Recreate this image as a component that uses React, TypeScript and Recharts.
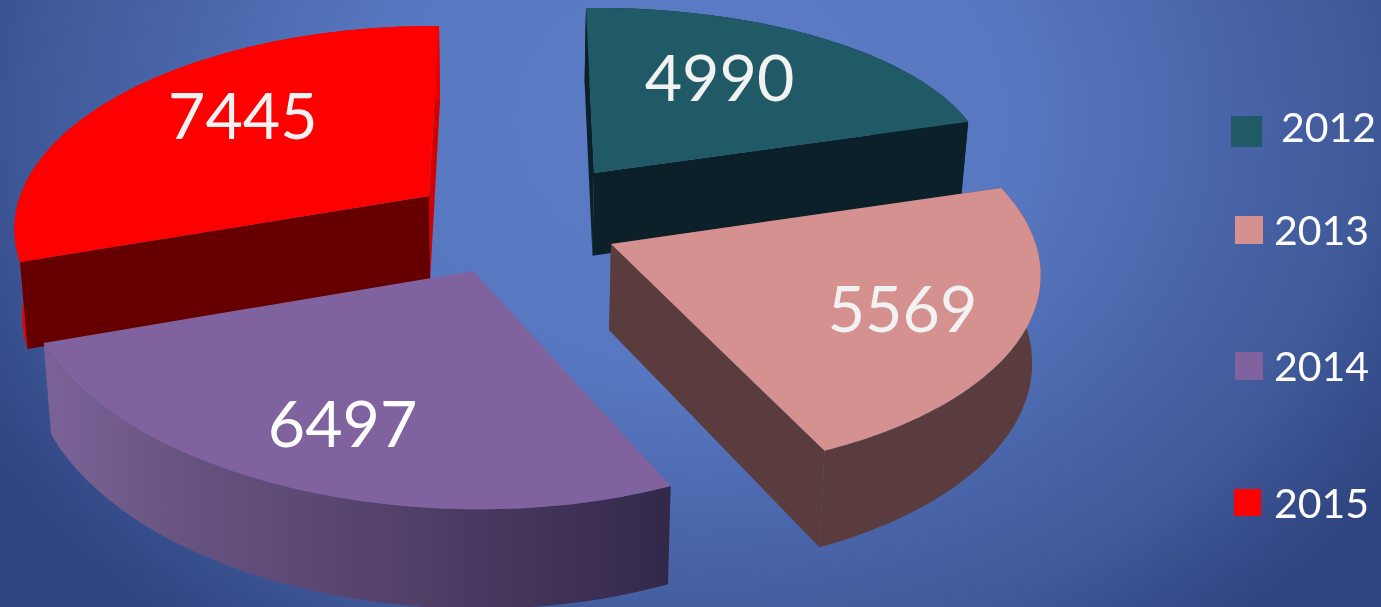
// 3D exploded pie: Recharts works out the slice angles, the custom shape projects them.
import { Legend, Pie, PieChart } from "recharts";

const years = ["2015", "2012", "2013", "2014"]; // paint order, back slices first
const values = [7445, 4990, 5569, 6497];

const topColors = ["#ff0000", "#205a66", "#d49190", "#7f629e"];
const wallColors = ["#e60000", "#0c2029", "#5a3c3e", "url(#purpleWall)"];
const startCutColors = ["#660000", "#0c2029", "#5a3c3e", "none"];
const endCutColors = ["#d40000", "#0c2029", "#5a3c3e", "none"];
const labelColors = ["#f2f2f2", "#f2f2f2", "#f2f2f2", "#ffffff"];

const chartData = years.map((year, i) => ({ year, value: values[i], fill: topColors[i] }));
const total = values.reduce((a, b) => a + b, 0);
const startAngle = 90 + (360 * values[0]) / total;

const CX = 530;
const CY = 220;

// how each exploded slice sits on the tilted plane: offset from centre, ellipse axes, perspective
const views: Record<string, any> = {
    "2012": { dx: 64, dy: -47, ax: 393, ay: -4, bx: -8, by: -165, qx: 0, qy: 0, lx: 0.55, ly: 0.72 },
    "2013": { dx: 81, dy: 24, ax: 425, ay: 0.6, bx: -13.8, by: -203.6, qx: 0, qy: 0.116, lx: 0.706, ly: 0.716 },
    "2014": { dx: -57, dy: 51, ax: 435.6, ay: 6.3, bx: -7, by: -224, qx: 0.03, qy: 0.06, lx: 0.747, ly: 0.693 },
    "2015": { dx: -101, dy: -24, ax: 408, ay: 2.3, bx: 11.5, by: -195.5, qx: 0, qy: 0.15, lx: 0.62, ly: 0.776 },
};

const legendRows: Record<string, any> = {
    "2012": { left: 1231, top: 116, size: 31, textLeft: 1281, textShift: -5 },
    "2013": { left: 1235, top: 216, size: 28, textLeft: 1274, textShift: 0 },
    "2014": { left: 1235, top: 352, size: 28, textLeft: 1274, textShift: 0 },
    "2015": { left: 1234, top: 489, size: 27, textLeft: 1274, textShift: 0 },
};

const FONT = "Lato, 'Open Sans', sans-serif";

// offset of a rim point from the slice's apex
function rim(view: any, deg: number) {
    const t = (deg * Math.PI) / 180;
    const c = Math.cos(t);
    const s = Math.sin(t);
    const w = 1 + view.qx * c + view.qy * s;
    return [(view.ax * c + view.bx * s) / w, (view.ay * c + view.by * s) / w];
}

// extrusion is deeper near the viewer and leans towards the middle
function drop([x, y]: number[]) {
    return [x - (x - 500) * 0.016, y + 74 + 0.05 * y];
}

function toPath(points: number[][]) {
    return "M" + points.map((p) => p[0].toFixed(1) + " " + p[1].toFixed(1)).join("L") + "Z";
}

function Slice(props: any) {
    const year = props.year ?? props.payload?.year;
    const i = years.indexOf(year);
    const view = views[year];
    const apex = [CX + view.dx, CY + view.dy];
    const arc: number[][] = [];
    const steps = 80;
    for (let k = 0; k <= steps; k++) {
        const [x, y] = rim(view, props.startAngle + ((props.endAngle - props.startAngle) * k) / steps);
        arc.push([apex[0] + x, apex[1] + y]);
    }
    const first = arc[0];
    const last = arc[arc.length - 1];
    return (
        <g>
            <path d={toPath([apex, last, drop(last), drop(apex)])} fill={endCutColors[i]} />
            <path d={toPath([...arc, ...arc.map(drop).reverse()])} fill={wallColors[i]} />
            {/* the start cut faces the viewer, so it goes over the rim wall */}
            <path d={toPath([apex, first, drop(first), drop(apex)])} fill={startCutColors[i]} />
            <path d={toPath([apex, ...arc])} fill={topColors[i]} />
        </g>
    );
}

function SliceLabel(props: any) {
    const year = props.year ?? props.payload?.year;
    const view = views[year];
    const [x, y] = rim(view, props.midAngle);
    return (
        <text
            x={CX + view.dx + view.lx * x}
            y={CY + view.dy + view.ly * y}
            textAnchor="middle"
            dominantBaseline="central"
            fill={labelColors[years.indexOf(year)]}
            fontFamily={FONT}
            fontSize={64.5}
        >
            {props.value}
        </text>
    );
}

function LegendBlock({ payload }: any) {
    return (
        <div>
            {(payload ?? []).map((entry: any) => {
                const row = legendRows[entry.value];
                return (
                    <div key={entry.value}>
                        <div
                            style={{
                                position: "absolute",
                                left: row.left,
                                top: row.top,
                                width: row.size,
                                height: row.size,
                                background: entry.color,
                            }}
                        />
                        <span
                            style={{
                                position: "absolute",
                                left: row.textLeft,
                                top: row.top + row.size / 2 - 25 + row.textShift,
                                lineHeight: "50px",
                                fontSize: 41,
                                fontFamily: FONT,
                                color: "#ffffff",
                            }}
                        >
                            {entry.value}
                        </span>
                    </div>
                );
            })}
        </div>
    );
}

export default function App() {
    return (
        <div
            style={{
                position: "fixed",
                left: 0,
                top: 0,
                width: 1381,
                height: 607,
                overflow: "hidden",
                background:
                    "radial-gradient(ellipse 820px 660px at 700px 120px, #5c7cc7 0%, #5777c0 40%, #3f5898 82%, #2f4480 100%)",
            }}
        >
            <PieChart width={1381} height={607} margin={{ top: 0, right: 0, bottom: 0, left: 0 }}>
                <defs>
                    <linearGradient id="purpleWall" gradientUnits="userSpaceOnUse" x1="50" y1="0" x2="670" y2="0">
                        <stop offset="0%" stopColor="#7a6296" />
                        <stop offset="25%" stopColor="#65517f" />
                        <stop offset="55%" stopColor="#53416a" />
                        <stop offset="100%" stopColor="#33284a" />
                    </linearGradient>
                </defs>
                <Legend content={<LegendBlock />} wrapperStyle={{ left: 0, top: 0, width: 0, height: 0 }} />
                <Pie
                    data={chartData}
                    dataKey="value"
                    nameKey="year"
                    cx={CX}
                    cy={CY}
                    outerRadius={200}
                    startAngle={startAngle}
                    endAngle={startAngle - 360}
                    stroke="none"
                    shape={Slice}
                    label={SliceLabel}
                    labelLine={false}
                    isAnimationActive={false}
                />
            </PieChart>
        </div>
    );
}
